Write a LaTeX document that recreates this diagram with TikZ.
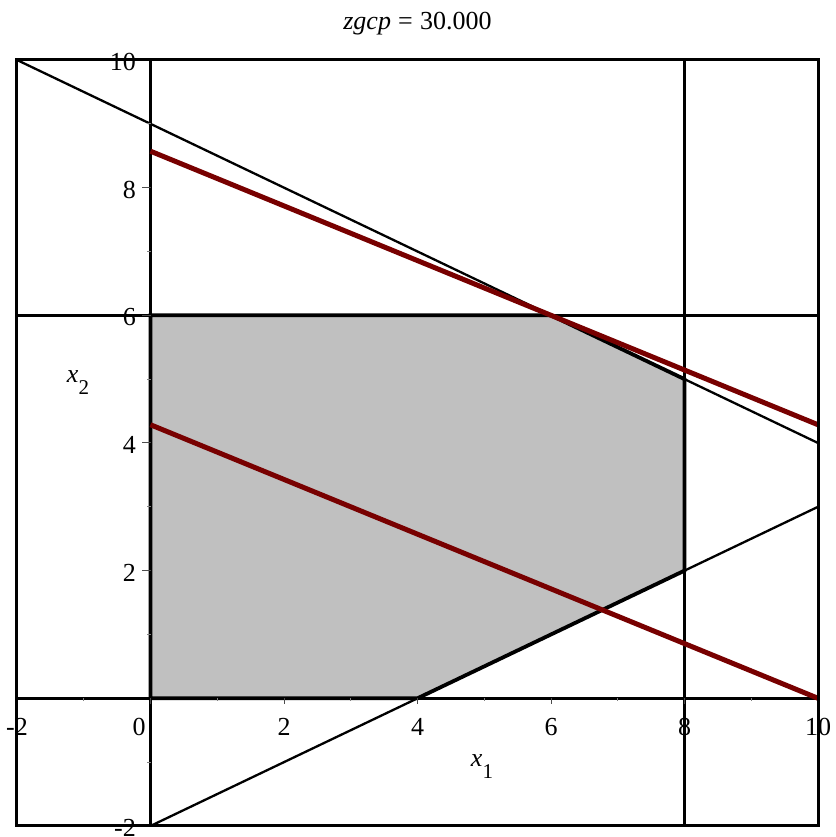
\documentclass[tikz,border=0pt]{standalone}
\usepackage{fontspec}
\setmainfont{Liberation Serif}
\definecolor{burg}{RGB}{120,0,0}
\definecolor{regiongray}{RGB}{192,192,192}
\newcommand{\mysubs}[1]{\raisebox{-12pt}{\fontsize{21}{21}\selectfont #1}}
\begin{document}
\begin{tikzpicture}[x=66.75pt,y=63.83pt,
  frame/.style={line width=3pt,line cap=rect},
  axisline/.style={line width=3pt},
  cline/.style={line width=2.6pt},
  sline/.style={line width=2.3pt},
  objline/.style={line width=5pt,color=burg},
  region/.style={fill=regiongray,draw=black,line width=3.8pt,line join=miter},
  majtick/.style={line width=1pt,color=black!70},
  mintick/.style={line width=1pt,color=black!50},
  lbl/.style={inner sep=0pt,font=\fontsize{26}{26}\selectfont},
  ylbl/.style={lbl,anchor=base east,xshift=-14.5pt,yshift=-10.5pt}]
\useasboundingbox (-2.2547,-2.1730) rectangle (10.2697,10.9400);
% named corner points
\coordinate (BL) at (-2,-2);
\coordinate (TR) at (10,10);
% feasible region
\coordinate (P1) at (0,0);
\coordinate (P2) at (4,0);
\coordinate (P3) at (8,2);
\coordinate (P4) at (8,5);
\coordinate (P5) at (6,6);
\coordinate (P6) at (0,6);
\fill[regiongray] (P1) -- (P2) -- (P3) -- (P4) -- (P5) -- (P6) -- cycle;
% constraint lines
\coordinate (A1) at (0,-2);  \coordinate (A2) at (0,10);
\coordinate (B1) at (-2,0);  \coordinate (B2) at (10,0);
\coordinate (C1) at (8,-2);  \coordinate (C2) at (8,10);
\coordinate (D1) at (-2,6);  \coordinate (D2) at (10,6);
\coordinate (E1) at (-2,10); \coordinate (E2) at (10,4);
\coordinate (F1) at (0,-2);  \coordinate (F2) at (10,3);
\draw[cline] (C1) -- (C2);
\draw[cline] (D1) -- (D2);
\draw[sline] (E1) -- (E2);
\draw[sline] (F1) -- (F2);
\draw[axisline] (A1) -- (A2);
\draw[axisline] (B1) -- (B2);
\draw[region,fill=none] (P1) -- (P2) -- (P3) -- (P4) -- (P5) -- (P6) -- cycle;
% objective lines
\coordinate (G1) at (0,8.5714); \coordinate (G2) at (10,4.2857);
\coordinate (H1) at (0,4.2857); \coordinate (H2) at (10,0);
\draw[objline] (G1) -- (G2);
\draw[objline] (H1) -- (H2);
% ticks on x axis
\foreach \t in {-2,0,2,4,6,8,10} \draw[majtick] (\t,0) -- ++(0,-6pt);
\foreach \t in {-1,1,3,5,7,9} \draw[mintick] (\t,0) -- ++(0,-3pt);
% ticks on y axis
\foreach \t in {-2,2,4,6,8,10} \draw[majtick] (0,\t) -- ++(-8pt,0);
\foreach \t in {-1,1,3,5,7,9} \draw[mintick] (0,\t) -- ++(-3pt,0);
% frame
\draw[frame] (BL) rectangle (TR);
% x tick labels
\node[lbl,anchor=base] (xl-2) at (-2,-0.575) {-2};
\node[lbl,anchor=base] (xl0) at (-0.172,-0.575) {0};
\foreach \t in {2,4,6,8,10} \node[lbl,anchor=base] (xl\t) at (\t,-0.575) {\t};
% y tick labels
\node[ylbl] (yl-2) at (0,-2) {-2};
\foreach \t in {2,4,6,8,10} \node[ylbl] (yl\t) at (0,\t) {\t};
% axis titles
\node[lbl,anchor=base] (xname) at (4.966,-1.073) {\textit{x}\mysubs{1}};
\node[lbl,anchor=base] (yname) at (-1.086,4.955) {\textit{x}\mysubs{2}};
% plot title
\node[lbl,anchor=base] (title) at (4,10.47) {\textit{zgcp}\;=\;30.000};
\end{tikzpicture}
\end{document}
